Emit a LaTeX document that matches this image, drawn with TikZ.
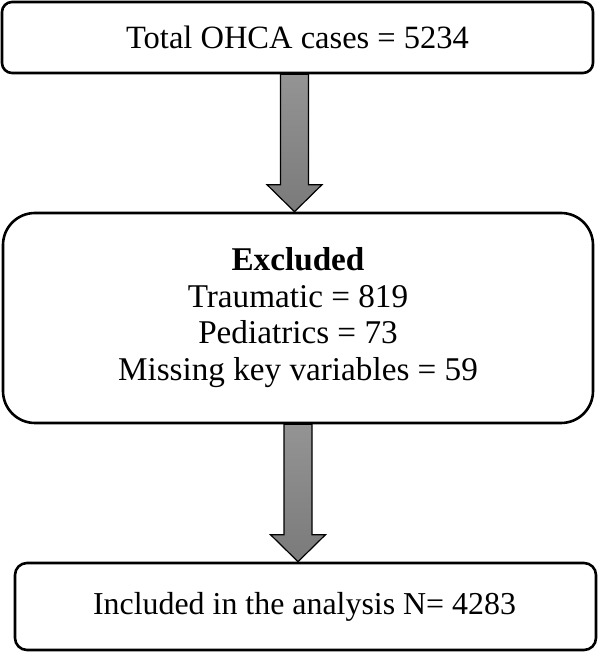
\documentclass[tikz,border=0pt]{standalone}
\usepackage{fontspec}
\setmainfont{Liberation Serif}
\usetikzlibrary{calc}
\begin{document}
\begin{tikzpicture}[x=1pt,y=1pt,
  box/.style={draw=black,line width=2.6pt,fill=white,inner sep=0pt,align=center,font=\fontsize{32.5}{35}\selectfont},
  fatarrow/.style={draw=black,line width=1.2pt,top color=black!42,bottom color=black!52,shading angle=0}]
\useasboundingbox (0,0) rectangle (598,652);
\node[box,rounded corners=10pt,minimum width=591pt,minimum height=71pt] (box1) at (297.5,614.5) {Total OHCA cases = 5234};
\node[box,rounded corners=32pt,minimum width=590pt,minimum height=210pt,font=\fontsize{33.2}{36.6}\selectfont] (box2) at (298,334)
  {\raisebox{15pt}{\begin{tabular}{c}\textbf{Excluded}\\ Traumatic = 819\\ Pediatrics = 73\\ Missing key variables = 59\end{tabular}}};
\node[box,rounded corners=12pt,minimum width=581pt,minimum height=87pt,font=\fontsize{31.9}{35}\selectfont] (box3) at (305.5,45.5) {Included in the analysis N= 4283\hspace{2pt}};
% arrow 1
\path[fatarrow] let \p1=(box1.south), \p2=(box2.north) in
  ($(\x1-3,\y1)+(-14,0)$) -- ($(\x1-3,\y2)+(-14,27)$) -- ($(\x1-3,\y2)+(-27.5,27)$) -- ($(\x1-3,\y2)$)
  -- ($(\x1-3,\y2)+(27.5,27)$) -- ($(\x1-3,\y2)+(14,27)$) -- ($(\x1-3,\y1)+(14,0)$) -- cycle;
% arrow 2
\path[fatarrow] let \p1=(box2.south), \p2=(box3.north) in
  ($(\x1,\y1)+(-14,0)$) -- ($(\x1,\y2)+(-14,27)$) -- ($(\x1,\y2)+(-27.5,27)$) -- ($(\x1,\y2)$)
  -- ($(\x1,\y2)+(27.5,27)$) -- ($(\x1,\y2)+(14,27)$) -- ($(\x1,\y1)+(14,0)$) -- cycle;
\end{tikzpicture}
\end{document}
